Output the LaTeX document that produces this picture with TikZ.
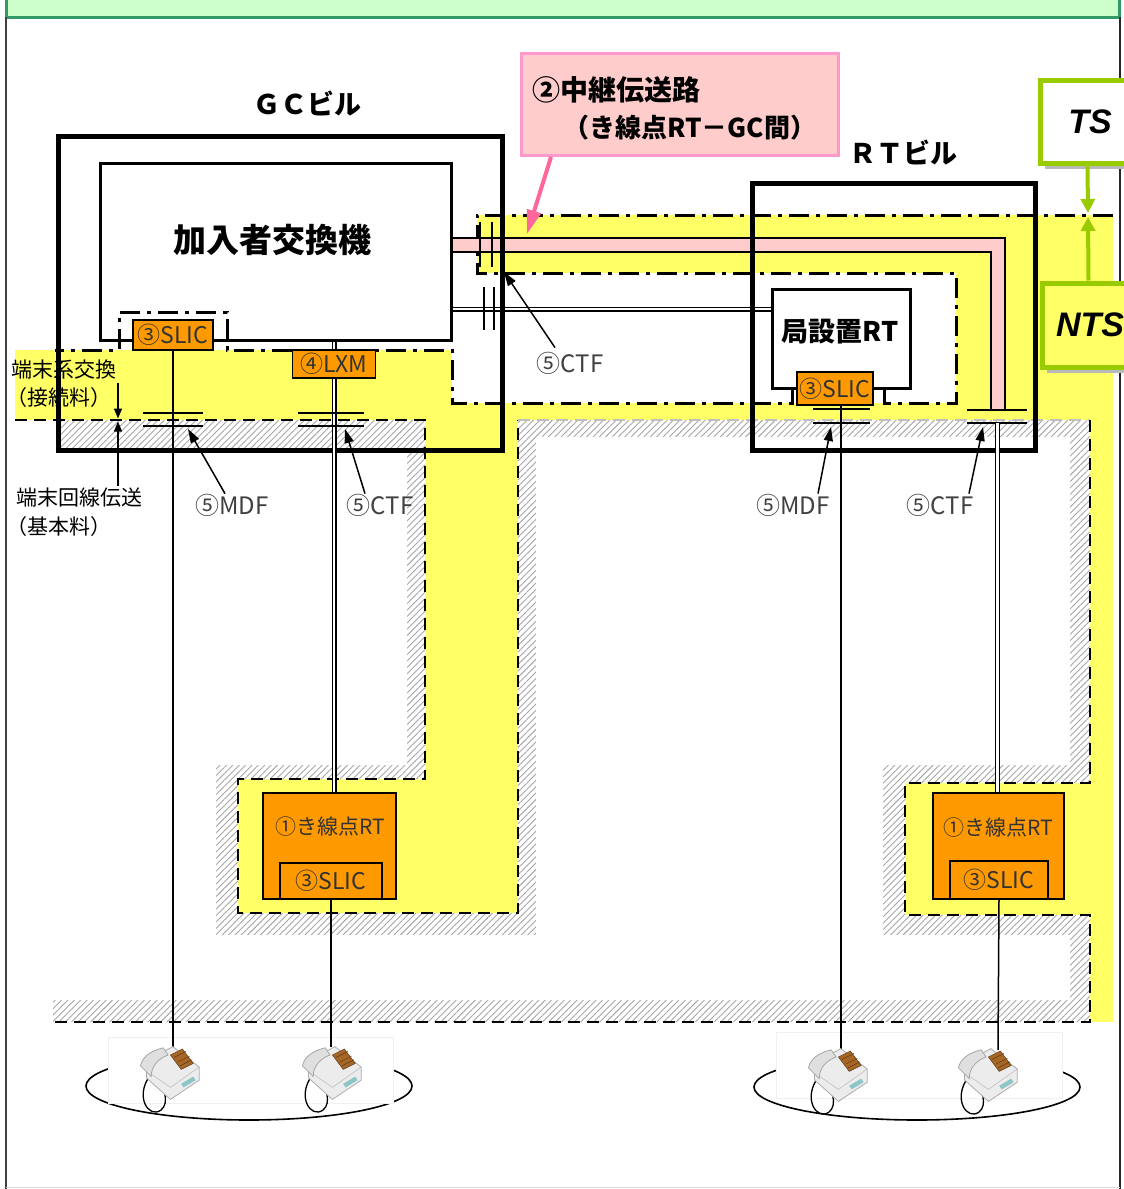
\documentclass[tikz,border=0pt]{standalone}
\usepackage{fontspec}
\setmainfont{Noto Sans CJK JP}
\newfontfamily\lat{Liberation Sans}
\usetikzlibrary{arrows.meta,patterns.meta}
\definecolor{zoneyellow}{HTML}{FFFF66}
\definecolor{boxorange}{HTML}{FF9900}
\definecolor{relaypink}{HTML}{FFCCCC}
\definecolor{calloutedge}{HTML}{FF99CC}
\definecolor{arrowpink}{HTML}{FF6699}
\definecolor{ntsgreen}{HTML}{99CC00}
\definecolor{bannerfill}{HTML}{CCFFCC}
\definecolor{banneredge}{HTML}{339966}
\definecolor{labelgray}{HTML}{404040}
\newcommand\fsz[1]{\fontsize{#1}{#1}\selectfont}
% outline of the subscriber-line (basic charge) zone and its inner edge
\newcommand\lineZoneOuter{(58,420) -- (425,420) -- (425,779) -- (238,779) -- (238,913) -- (518,913) -- (518,420) -- (1090,420) -- (1090,783) -- (905,783) -- (905,915) -- (1090,915) -- (1090,1022) -- (53,1022) -- (53,448) -- (58,448) -- cycle}
\newcommand\lineZoneInner{(40,448) -- (407,448) -- (407,765) -- (216,765) -- (216,935) -- (536,935) -- (536,437) -- (1070,437) -- (1070,765) -- (883,765) -- (883,935) -- (1070,935) -- (1070,1000) -- (40,1000) -- cycle}

\tikzset{
  phone/.pic={
    % handset cord
    \draw[black, line width=1.3pt] (-15,2) .. controls (-28,20) and (-16,38) .. (-6,31) .. controls (2,25) and (-4,10) .. (-9,4);
    % base
    \filldraw[fill=gray!15, draw=gray!65, line width=0.8pt] (-18,-10) -- (4,-22) -- (26,-5) -- (26,6) -- (2,22) -- (-18,4) -- cycle;
    \draw[gray!50, line width=0.6pt] (-18,-2) -- (2,12) -- (26,-5);
    % handset
    \filldraw[fill=gray!25, draw=gray!70, line width=0.8pt] (-23,-6) .. controls (-21,-15) and (-12,-19) .. (-4,-21) -- (0,-15) .. controls (-8,-12) and (-14,-6) .. (-14,3) -- cycle;
    % keypad
    \filldraw[fill=brown!70!orange!80!black, draw=brown!50!black, line width=0.5pt] (2,-15) -- (12,-20) -- (21,-8) -- (11,-3) -- cycle;
    \draw[brown!40!black, line width=0.4pt] (5,-13) -- (15,-18) (8,-9) -- (18,-14) (10,-6) -- (20,-11);
    % display strip
    \fill[teal!45] (11,9) -- (21,3) -- (23,6) -- (13,12) -- cycle;
  }
}

\begin{document}
\begin{tikzpicture}[x=1pt,y=-1pt,
  building/.style={draw, line width=5pt, inner sep=0pt},
  exbox/.style={draw, line width=3pt, inner sep=0pt},
  orangebox/.style={draw, line width=1.8pt, fill=boxorange, inner sep=0pt, text=black!80, font=\fsz{23}},
  dashdot/.style={line width=3pt, dash pattern=on 20pt off 7pt on 4pt off 7pt},
  zoneline/.style={line width=2.5pt, dash pattern=on 12pt off 7pt},
  wire/.style={line width=1.5pt},
  pair/.style={double, double distance=2.4pt, line width=1.3pt},
  bar/.style={line width=2pt},
  tag/.style={text=labelgray, font=\fsz{24}, inner sep=0pt},
  pointer/.style={line width=1.5pt, -{Triangle[length=14pt,width=9pt]}},
  smallpointer/.style={line width=1.3pt, -{Triangle[length=10pt,width=8pt]}},
  greenarrow/.style={ntsgreen, line width=4pt, -{Triangle[length=14pt,width=14pt]}},
  plain/.style={inner sep=0pt}
]
\useasboundingbox (0,0) rectangle (1124,1189);

% ---- page banner and frame ----
\fill[bannerfill] (5,-5) rectangle (1120,17);
\draw[banneredge, line width=3pt] (6,-5) -- (6,17) -- (1119,17) -- (1119,-5);
\draw[black!75, line width=2pt] (6,17) -- (6,1195);
\draw[black!85, line width=2pt] (1120,17) -- (1120,1195);
\draw[gray!30, line width=1pt] (6,1187) -- (1120,1187);

% ---- exchange zone (yellow) ----
\fill[zoneyellow] (477,215) rectangle (1113,1022);
\fill[zoneyellow] (15,350) rectangle (452,420);
\fill[zoneyellow] (425,350) rectangle (518,913);
\fill[zoneyellow] (238,779) rectangle (518,913);
\fill[white] (452,273) rectangle (956,403);

% ---- subscriber-line zone (hatched border) ----
\fill[white] \lineZoneOuter;
\fill[pattern={Lines[angle=45,distance=4.5pt,line width=0.9pt]}, pattern color=gray!70] \lineZoneOuter;
\fill[white] \lineZoneInner;

% zone boundaries
\draw[zoneline] (15,420) -- (425,420) -- (425,779) -- (238,779) -- (238,913) -- (518,913) -- (518,420);
\draw[zoneline, gray!50, line width=1.5pt] (518,420) -- (1090,420);
\draw[zoneline] (1090,420) -- (1090,783) -- (905,783) -- (905,915) -- (1090,915) -- (1090,1022) -- (53,1022);
\draw[dashdot] (1113,215) -- (477,215) -- (477,273) -- (956,273) -- (956,403) -- (884,403) -- (884,368) -- (792,368) -- (792,403) -- (452,403) -- (452,350) -- (227,350) -- (227,312) -- (119,312) -- (119,350) -- (55,350);

% ---- equipment ----
\node[exbox, minimum width=351pt, minimum height=177pt] (exch) at (275.5,251.5) {};
\node[plain] (exchlabel) at (272,240) {\bfseries\fsz{33}加入者交換機};
\node[draw, line width=3pt, fill=white, inner sep=0pt, minimum width=138pt, minimum height=99pt] (rtsite) at (841,338.5) {};
\node[plain] (rtsitelabel) at (840,332) {\bfseries\fsz{27}局設置RT};

% relay transmission path (pink)
\coordinate (relayend) at (997.5,410);
\draw[line width=16pt] (exch.east |- 0,244.5) -- (997.5,244.5) -- (relayend);
\draw[relaypink, line width=12pt] (exch.east |- 0,244.5) -- (997.5,244.5) -- (relayend);

% line between exchange and office RT
\coordinate (trunkY) at (0,309);
\draw[pair] (exch.east |- trunkY) -- (rtsite.west |- trunkY);

% CTF couplers at the GC building wall
\draw[bar] (480,222) -- (480,267) (492,222) -- (492,267);
\draw[bar] (484,287) -- (484,330) (494,287) -- (494,330);

% buildings
\node[building, minimum width=444pt, minimum height=314pt] (gc) at (280,293) {};
\node[building, minimum width=283pt, minimum height=267pt] (rtb) at (893.5,316.5) {};
\node[plain] (gclabel) at (307,104) {\bfseries\fsz{27}ＧＣビル};
\node[plain] (rtlabel) at (903,153) {\bfseries\fsz{27}ＲＴビル};

% line cards
\node[orangebox, minimum width=80pt, minimum height=30pt] (slicgc) at (173,335) {③SLIC};
\node[orangebox, minimum width=83pt, minimum height=28pt] (lxm) at (334,364) {④LXM};
\node[orangebox, minimum width=76pt, minimum height=33pt] (slicrt) at (835,388.5) {③SLIC};

% feeder-point RTs
\node[orangebox, minimum width=133pt, minimum height=106pt] (fdrtL) at (329.5,846) {};
\node[plain, text=black!80] (fdrtLlabel) at (330,827) {\fsz{21}①き線点RT};
\node[orangebox, minimum width=102pt, minimum height=36pt] (slicL) at (331,881) {③SLIC};
\node[orangebox, minimum width=131pt, minimum height=106pt] (fdrtR) at (998.5,846) {};
\node[plain, text=black!80] (fdrtRlabel) at (998,828) {\fsz{21}①き線点RT};
\node[orangebox, minimum width=98pt, minimum height=38pt] (slicR) at (999,880) {③SLIC};

% ---- subscriber premises ----
\draw[line width=1.6pt] (249,1086) ellipse [x radius=163pt, y radius=34pt];
\draw[line width=1.6pt] (917,1087) ellipse [x radius=163pt, y radius=33pt];
\filldraw[fill=white, draw=gray!12, line width=0.8pt] (108,1037) rectangle (393,1103);
\filldraw[fill=white, draw=gray!12, line width=0.8pt] (776,1032) rectangle (1062,1098);
\coordinate (tel1) at (173,1047);
\coordinate (tel2) at (331,1047);
\coordinate (tel3) at (841,1050);
\coordinate (tel4) at (998,1050);

% ---- wiring ----
\draw[wire] (slicgc.south) -- (tel1);
\draw[bar] (143,413) -- (203,413) (143,426) -- (203,426);
\draw[pair] (exch.south -| lxm.north) -- (lxm.north);
\draw[pair] (lxm.south) -- (lxm.south |- fdrtL.north);
\draw[bar] (298,413) -- (364,413) (298,426) -- (364,426);
\draw[wire] (slicL.south) -- (tel2);

\draw[wire] (slicrt.south -| tel3) -- (tel3);
\draw[bar] (813,409) -- (870,409) (813,423) -- (870,423);
\coordinate (ctfrt) at (997.5,423);
\draw[bar] (967,410) -- (1027,410) (967,423) -- (1027,423);
\draw[pair] (ctfrt) -- (ctfrt |- fdrtR.north);
\draw[wire] (slicR.south) -- (tel4);

\pic[scale=1.2] (phone1) at (168,1073) {phone};
\pic[scale=1.2] (phone2) at (330,1073) {phone};
\pic[scale=1.2] (phone3) at (836,1075) {phone};
\pic[scale=1.2] (phone4) at (986,1075) {phone};

% ---- labels and pointers ----
\node[tag] (mdfL) at (232,505) {⑤MDF};
\node[tag] (ctfL) at (380,505) {⑤CTF};
\node[tag] (ctfTop) at (570,363) {⑤CTF};
\node[tag] (mdfR) at (793,505) {⑤MDF};
\node[tag] (ctfR) at (940,505) {⑤CTF};
\coordinate (mdfLtip) at (188,429);
\coordinate (ctfLtip) at (345,429);
\coordinate (ctfToptip) at (504,272);
\coordinate (mdfRtip) at (831,427);
\coordinate (ctfRtip) at (983,427);
\draw[pointer] ([xshift=-7pt]mdfL.north) -- (mdfLtip);
\draw[pointer] ([xshift=-15pt]ctfL.north) -- (ctfLtip);
\draw[pointer] ([xshift=-15pt,yshift=4pt]ctfTop.north) -- (ctfToptip);
\draw[pointer] ([xshift=25pt]mdfR.north) -- (mdfRtip);
\draw[pointer] ([xshift=29pt]ctfR.north) -- (ctfRtip);

\node[plain, anchor=west] (swlabel) at (11,370) {\fsz{21}端末系交換};
\node[plain, anchor=west] (swlabel2) at (6,398) {\fsz{21}（接続料）};
\node[plain, anchor=west] (linelabel) at (16,498) {\fsz{21}端末回線伝送};
\node[plain, anchor=west] (linelabel2) at (6,527) {\fsz{21}（基本料）};
\coordinate (boundary) at (118,420);
\coordinate (swfoot) at (118,383);
\coordinate (linetop) at (118,486);
\draw[smallpointer] (swfoot) -- ([yshift=1.5pt]boundary);
\draw[smallpointer] (linetop) -- ([yshift=-1.5pt]boundary);

% relay path callout
\node[draw=calloutedge, fill=relaypink, line width=3pt, inner sep=0pt, minimum width=317pt, minimum height=102pt] (callout) at (679.5,104) {};
\node[plain, anchor=west] (callout1) at (532,90) {\bfseries\fsz{28}②中継伝送路};
\node[plain, anchor=west] (callout2) at (563,128) {\bfseries\fsz{26}（き線点RT－GC間）};
\coordinate (calloutfoot) at (551,157);
\coordinate (relaytip) at (527,234);
\draw[arrowpink, line width=4pt, -{Triangle[length=24pt,width=14pt]}] (calloutfoot) -- (relaytip);

% TS / NTS
\fill[gray!55] (1045,86) rectangle (1140,169);
\node[draw=ntsgreen, fill=white, line width=5pt, inner sep=0pt, minimum width=95pt, minimum height=83pt] (ts) at (1087.5,121.5) {};
\node[plain] (tslabel) at (1090,122) {\lat\bfseries\itshape\fsz{34}TS};
\fill[gray!55] (1047,289) rectangle (1140,373);
\node[draw=ntsgreen, fill=zoneyellow, line width=5pt, inner sep=0pt, minimum width=93pt, minimum height=84pt] (nts) at (1088.5,325) {};
\node[plain] (ntslabel) at (1090,325) {\lat\bfseries\itshape\fsz{34}NTS};
\coordinate (junction) at (1088,215);
\draw[greenarrow] (ts.south) -- ([yshift=2pt]junction);
\draw[greenarrow] (nts.north) -- ([yshift=-2pt]junction);
\end{tikzpicture}
\end{document}
